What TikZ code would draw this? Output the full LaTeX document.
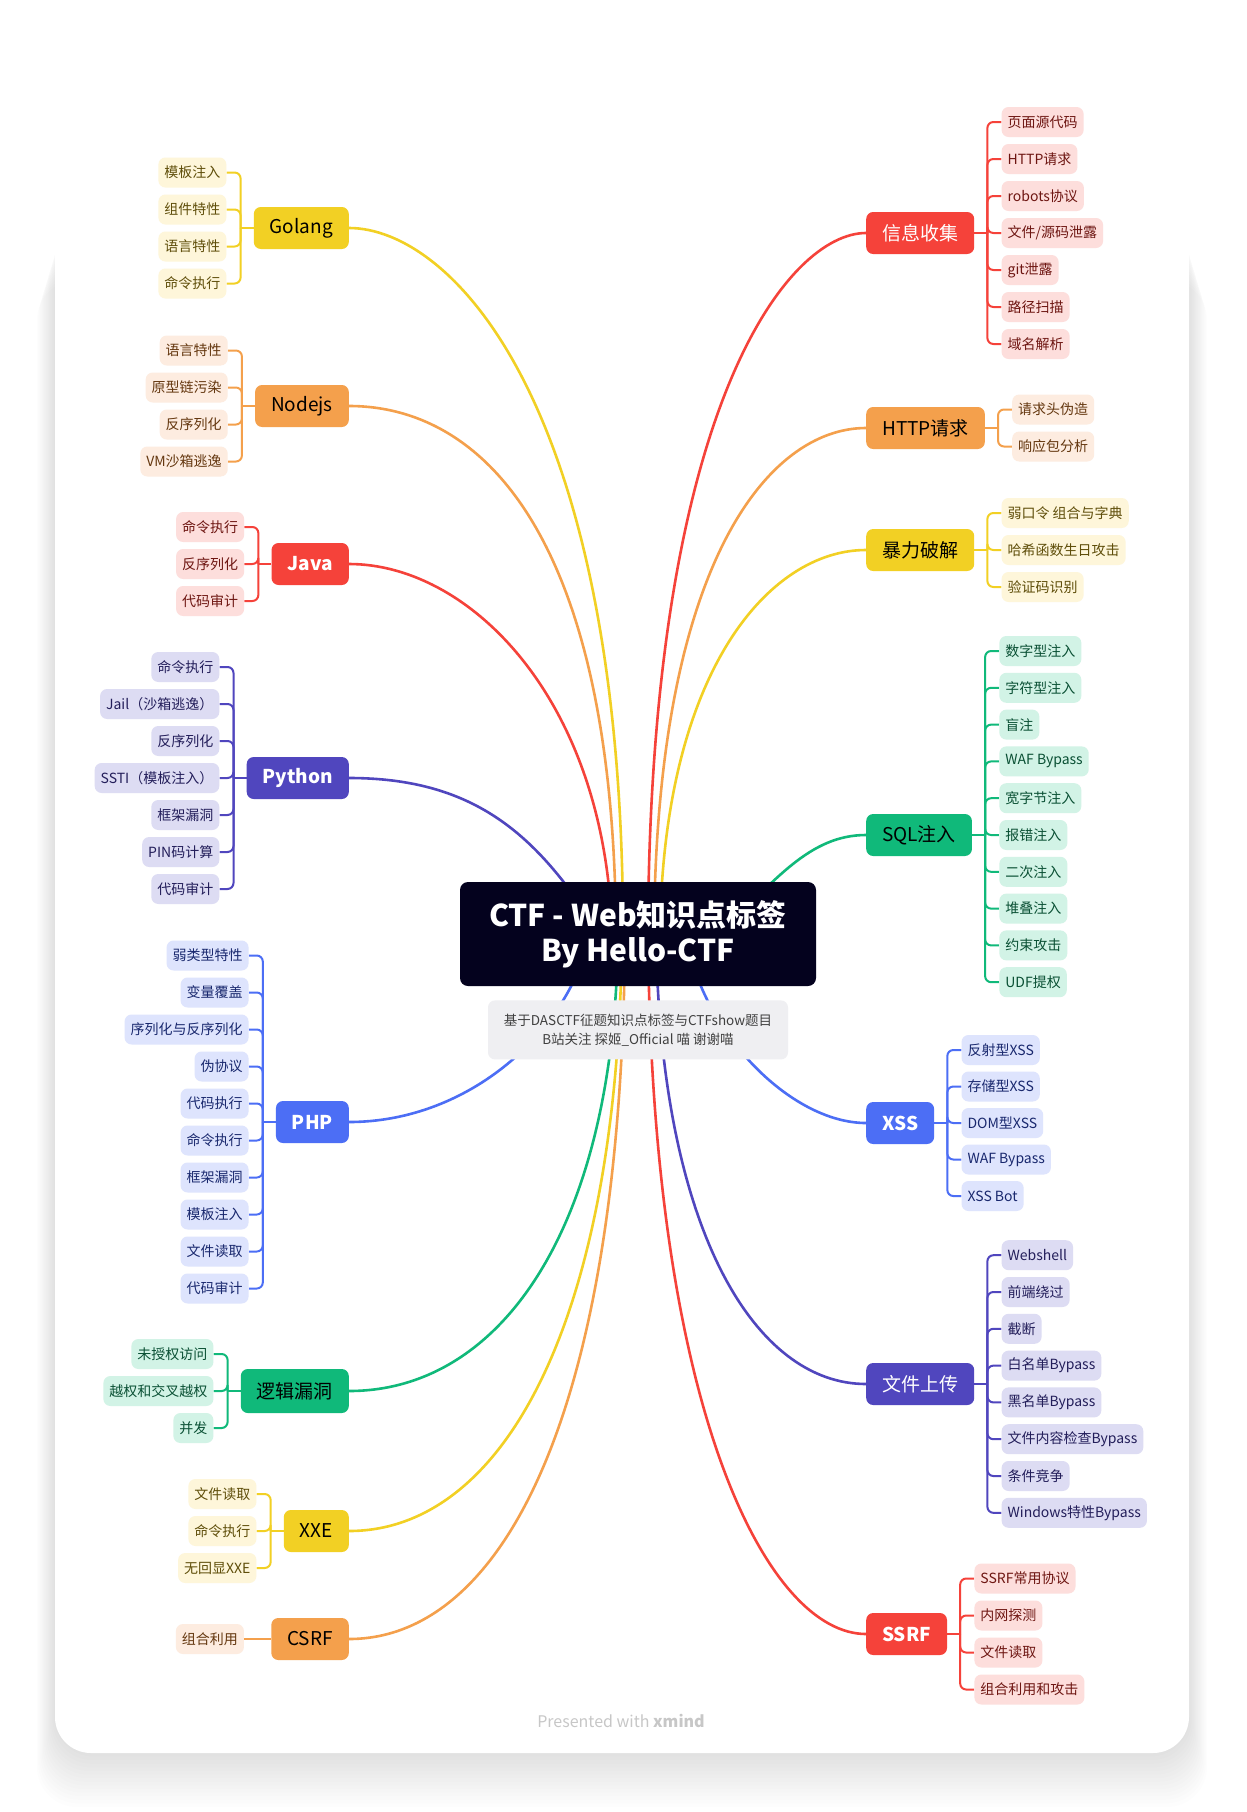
\documentclass[tikz,border=0pt]{standalone}
\usepackage{fontspec}
\setmainfont{Noto Sans CJK SC}
\usepackage{tikz}
\usetikzlibrary{positioning, calc}
\definecolor{rootnavy}{RGB}{4,2,30}
\definecolor{notegray}{RGB}{239,239,242}
\definecolor{redmain}{RGB}{245,66,58}
\definecolor{redleaf}{RGB}{253,222,220}
\definecolor{redtext}{RGB}{110,22,18}
\definecolor{orgmain}{RGB}{244,160,76}
\definecolor{orgleaf}{RGB}{253,236,224}
\definecolor{orgtext}{RGB}{100,55,15}
\definecolor{yelmain}{RGB}{242,208,36}
\definecolor{yelleaf}{RGB}{254,246,218}
\definecolor{yeltext}{RGB}{95,78,10}
\definecolor{grnmain}{RGB}{16,185,122}
\definecolor{grnleaf}{RGB}{210,243,230}
\definecolor{grntext}{RGB}{10,80,52}
\definecolor{indmain}{RGB}{80,70,190}
\definecolor{indleaf}{RGB}{221,220,243}
\definecolor{indtext}{RGB}{35,30,90}
\definecolor{blumain}{RGB}{76,110,245}
\definecolor{bluleaf}{RGB}{222,228,253}
\definecolor{blutext}{RGB}{25,40,110}
\pgfdeclarelayer{bg}
\pgfsetlayers{bg,main}

\begin{document}
\begin{tikzpicture}[x=1pt, y=-1pt,
  topic/.style={rounded corners=7pt, minimum height=42pt, inner xsep=16pt,
    font=\fontsize{19}{22}\selectfont, fill=#1main},
  leaf/.style={rounded corners=7pt, minimum height=30pt, inner xsep=6pt, inner ysep=0pt,
    font=\fontsize{14}{16}\selectfont, fill=#1leaf, text=#1text},
  branch/.style={line width=2.6pt, draw=#1main},
  twig/.style={line width=2pt, draw=#1main, rounded corners=6pt}]

\useasboundingbox (0,0) rectangle (1247,1812);

% Card and shadow
\begin{pgfonlayer}{bg}
  \fill[white] (0,0) rectangle (1247,1812);
  \foreach \s in {1,...,15}
    \fill[black, opacity=0.007, rounded corners=40pt] (55-\s*1.2, 220+\s*4) rectangle (1189+\s*1.2, 1753+\s*3.6);
  \fill[white, rounded corners=36pt] (55,72) rectangle (1189,1753);
\end{pgfonlayer}

% Root and note
\node[fill=rootnavy, text=white, rounded corners=8pt, minimum width=356pt, minimum height=104pt,
      align=center, font=\bfseries\fontsize{30}{35}\selectfont] (root) at (638,934)
      {CTF - Web知识点标签\\By Hello-CTF};
\node[fill=notegray, text=black!75, rounded corners=7pt, minimum width=300pt, minimum height=59pt,
      align=center, font=\fontsize{13.5}{19}\selectfont, below=14pt of root] (note)
      {基于DASCTF征题知识点标签与CTFshow题目\\B站关注 探姬\_Official 喵 谢谢喵};

% Left topics
\node[topic=yel, anchor=east] (golang) at (349,228) {Golang};
\node[topic=org, anchor=east] (nodejs) at (349,406) {Nodejs};
\node[topic=red, text=white, anchor=east] (java) at (349,564) {\bfseries Java};
\node[topic=ind, text=white, anchor=east] (python) at (349,778) {\bfseries Python};
\node[topic=blu, text=white, anchor=east] (php) at (349,1122) {\bfseries PHP};
\node[topic=grn, anchor=east, minimum height=44pt] (logic) at (349,1391) {逻辑漏洞};
\node[topic=yel, anchor=east] (xxe) at (349,1531) {XXE};
\node[topic=org, anchor=east] (csrf) at (349,1639) {CSRF};

% Right topics
\node[topic=red, text=white, anchor=west] (info) at (866,233) {信息收集};
\node[topic=org, anchor=west] (http) at (866,428) {HTTP请求};
\node[topic=yel, anchor=west] (brute) at (866,550) {暴力破解};
\node[topic=grn, anchor=west] (sql) at (866,835) {SQL注入};
\node[topic=blu, text=white, anchor=west] (xss) at (866,1123) {\bfseries XSS};
\node[topic=ind, text=white, anchor=west] (upload) at (866,1384) {文件上传};
\node[topic=red, text=white, anchor=west] (ssrf) at (866,1634) {\bfseries SSRF};

% Left leaves
\foreach \lbl [count=\i] in {模板注入, 组件特性, 语言特性, 命令执行}
  \node[leaf=yel, anchor=east] (golang-\i) at ($(golang.west)+(-27,{(\i-2.5)*37})$) {\lbl};
\foreach \lbl [count=\i] in {语言特性, 原型链污染, 反序列化, VM沙箱逃逸}
  \node[leaf=org, anchor=east] (nodejs-\i) at ($(nodejs.west)+(-27,{(\i-2.5)*37})$) {\lbl};
\foreach \lbl [count=\i] in {命令执行, 反序列化, 代码审计}
  \node[leaf=red, anchor=east] (java-\i) at ($(java.west)+(-27,{(\i-2)*37})$) {\lbl};
\foreach \lbl [count=\i] in {命令执行, Jail（沙箱逃逸）, 反序列化, SSTI（模板注入）, 框架漏洞, PIN码计算, 代码审计}
  \node[leaf=ind, anchor=east] (python-\i) at ($(python.west)+(-27,{(\i-4)*37})$) {\lbl};
\foreach \lbl [count=\i] in {弱类型特性, 变量覆盖, 序列化与反序列化, 伪协议, 代码执行, 命令执行, 框架漏洞, 模板注入, 文件读取, 代码审计}
  \node[leaf=blu, anchor=east] (php-\i) at ($(php.west)+(-27,{(\i-5.5)*37})$) {\lbl};
\foreach \lbl [count=\i] in {未授权访问, 越权和交叉越权, 并发}
  \node[leaf=grn, anchor=east] (logic-\i) at ($(logic.west)+(-27,{(\i-2)*37})$) {\lbl};
\foreach \lbl [count=\i] in {文件读取, 命令执行, 无回显XXE}
  \node[leaf=yel, anchor=east] (xxe-\i) at ($(xxe.west)+(-27,{(\i-2)*37})$) {\lbl};
\node[leaf=org, left=27pt of csrf] (csrf-1) {组合利用};

% Right leaves
\foreach \lbl [count=\i] in {页面源代码, HTTP请求, robots协议, 文件/源码泄露, git泄露, 路径扫描, 域名解析}
  \node[leaf=red, anchor=west] (info-\i) at ($(info.east)+(27,{(\i-4)*37})$) {\lbl};
\foreach \lbl [count=\i] in {请求头伪造, 响应包分析}
  \node[leaf=org, anchor=west] (http-\i) at ($(http.east)+(27,{(\i-1.5)*37})$) {\lbl};
\foreach \lbl [count=\i] in {弱口令 组合与字典, 哈希函数生日攻击, 验证码识别}
  \node[leaf=yel, anchor=west] (brute-\i) at ($(brute.east)+(27,{(\i-2)*37})$) {\lbl};
\foreach \lbl [count=\i] in {数字型注入, 字符型注入, 盲注, WAF Bypass, 宽字节注入, 报错注入, 二次注入, 堆叠注入, 约束攻击, UDF提权}
  \node[leaf=grn, anchor=west] (sql-\i) at ($(sql.east)+(27,{(\i-6)*36.8})$) {\lbl};
\foreach \lbl [count=\i] in {反射型XSS, 存储型XSS, DOM型XSS, WAF Bypass, XSS Bot}
  \node[leaf=blu, anchor=west] (xss-\i) at ($(xss.east)+(27,{(\i-3)*36.5})$) {\lbl};
\foreach \lbl [count=\i] in {Webshell, 前端绕过, 截断, 白名单Bypass, 黑名单Bypass, 文件内容检查Bypass, 条件竞争, Windows特性Bypass}
  \node[leaf=ind, anchor=west] (upload-\i) at ($(upload.east)+(27,{(\i-4.5)*36.8})$) {\lbl};
\foreach \lbl [count=\i] in {SSRF常用协议, 内网探测, 文件读取, 组合利用和攻击}
  \node[leaf=red, anchor=west] (ssrf-\i) at ($(ssrf.east)+(27,{(\i-2.5)*37})$) {\lbl};

\begin{pgfonlayer}{bg}
% Root to topics
\draw[branch=yel] ([xshift=-15pt]root.center) .. controls (623,400) and (450,228) .. (golang.east);
\draw[branch=org] ([xshift=-22pt]root.center) .. controls (614,540) and (485,406) .. (nodejs.east);
\draw[branch=red] ([xshift=-26pt]root.center) .. controls (606,700) and (470,564) .. (java.east);
\draw[branch=ind] ([xshift=-38pt]root.center) .. controls (540,840) and (480,778) .. (python.east);
\draw[branch=blu] ([xshift=-48pt]root.center) .. controls (570,1030) and (470,1122) .. (php.east);
\draw[branch=grn] ([xshift=-20pt]root.center) .. controls (615,1230) and (500,1391) .. (logic.east);
\draw[branch=yel] ([xshift=-16pt]root.center) .. controls (618,1330) and (500,1531) .. (xxe.east);
\draw[branch=org] ([xshift=-13pt]root.center) .. controls (622,1420) and (500,1639) .. (csrf.east);
\draw[branch=red] ([xshift=10pt]root.center) .. controls (650,400) and (790,233) .. (info.west);
\draw[branch=org] ([xshift=16pt]root.center) .. controls (656,560) and (770,428) .. (http.west);
\draw[branch=yel] ([xshift=22pt]root.center) .. controls (663,670) and (770,550) .. (brute.west);
\draw[branch=grn] ([xshift=82pt]root.center) .. controls (775,880) and (810,835) .. (sql.west);
\draw[branch=blu] ([xshift=48pt]root.center) .. controls (700,1030) and (790,1123) .. (xss.west);
\draw[branch=ind] ([xshift=18pt]root.center) .. controls (660,1230) and (755,1384) .. (upload.west);
\draw[branch=red] ([xshift=10pt]root.center) .. controls (652,1420) and (770,1634) .. (ssrf.west);

% Topics to leaves
\draw[twig=yel] (golang.west) -- ++(-13,0) coordinate (golang-fork);
\foreach \i in {1,...,4} \draw[twig=yel] (golang-fork) |- (golang-\i.east);
\draw[twig=org] (nodejs.west) -- ++(-13,0) coordinate (nodejs-fork);
\foreach \i in {1,...,4} \draw[twig=org] (nodejs-fork) |- (nodejs-\i.east);
\draw[twig=red] (java.west) -- ++(-13,0) coordinate (java-fork);
\foreach \i in {1,...,3} \draw[twig=red] (java-fork) |- (java-\i.east);
\draw[twig=ind] (python.west) -- ++(-13,0) coordinate (python-fork);
\foreach \i in {1,...,7} \draw[twig=ind] (python-fork) |- (python-\i.east);
\draw[twig=blu] (php.west) -- ++(-13,0) coordinate (php-fork);
\foreach \i in {1,...,10} \draw[twig=blu] (php-fork) |- (php-\i.east);
\draw[twig=grn] (logic.west) -- ++(-13,0) coordinate (logic-fork);
\foreach \i in {1,...,3} \draw[twig=grn] (logic-fork) |- (logic-\i.east);
\draw[twig=yel] (xxe.west) -- ++(-13,0) coordinate (xxe-fork);
\foreach \i in {1,...,3} \draw[twig=yel] (xxe-fork) |- (xxe-\i.east);
\draw[twig=org] (csrf.west) -- (csrf-1.east);

\draw[twig=red] (info.east) -- ++(13,0) coordinate (info-fork);
\foreach \i in {1,...,7} \draw[twig=red] (info-fork) |- (info-\i.west);
\draw[twig=org] (http.east) -- ++(13,0) coordinate (http-fork);
\foreach \i in {1,2} \draw[twig=org] (http-fork) |- (http-\i.west);
\draw[twig=yel] (brute.east) -- ++(13,0) coordinate (brute-fork);
\foreach \i in {1,...,3} \draw[twig=yel] (brute-fork) |- (brute-\i.west);
\draw[twig=grn] (sql.east) -- ++(13,0) coordinate (sql-fork);
\foreach \i in {1,...,10} \draw[twig=grn] (sql-fork) |- (sql-\i.west);
\draw[twig=blu] (xss.east) -- ++(13,0) coordinate (xss-fork);
\foreach \i in {1,...,5} \draw[twig=blu] (xss-fork) |- (xss-\i.west);
\draw[twig=ind] (upload.east) -- ++(13,0) coordinate (upload-fork);
\foreach \i in {1,...,8} \draw[twig=ind] (upload-fork) |- (upload-\i.west);
\draw[twig=red] (ssrf.east) -- ++(13,0) coordinate (ssrf-fork);
\foreach \i in {1,...,4} \draw[twig=red] (ssrf-fork) |- (ssrf-\i.west);
\end{pgfonlayer}

% Footer
\node[text=black!22, font=\fontsize{16}{18}\selectfont] (credit) at (621,1721) {Presented with \textbf{xmind}};

\end{tikzpicture}
\end{document}
